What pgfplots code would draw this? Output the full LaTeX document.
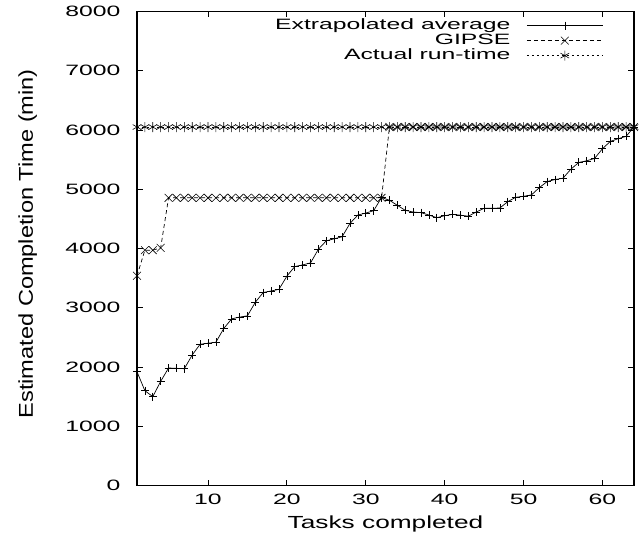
\documentclass[border=0pt]{standalone}
\usepackage{pgfplots}
\pgfplotsset{compat=1.18}
\usepackage{fontspec}
\setmainfont{Liberation Sans}
\usepackage{graphicx}
\pgfplotstableread{
x y
1 1920
2 1600
3 1500
4 1757
5 1983
6 1978
7 1971
8 2203
9 2384
10 2401
11 2418
12 2650
13 2813
14 2842
15 2864
16 3093
17 3257
18 3283
19 3311
20 3534
21 3695
22 3723
23 3757
24 3989
25 4130
26 4164
27 4198
28 4424
29 4565
30 4598
31 4638
32 4860
33 4814
34 4729
35 4644
36 4616
37 4605
38 4565
39 4520
40 4554
41 4576
42 4562
43 4545
44 4616
45 4678
46 4678
47 4684
48 4791
49 4864
50 4881
51 4904
52 5028
53 5130
54 5164
55 5186
56 5339
57 5452
58 5480
59 5520
60 5683
61 5808
62 5853
63 5893
64 6050
}\extrap
\pgfplotstableread{
x y
1 3540
2 3972
3 3972
4 4011
5 4855
6 4855
7 4855
8 4855
9 4855
10 4855
11 4855
12 4855
13 4855
14 4855
15 4855
16 4855
17 4855
18 4855
19 4855
20 4855
21 4855
22 4855
23 4855
24 4855
25 4855
26 4855
27 4855
28 4855
29 4855
30 4855
31 4855
32 4855
33 6050
34 6050
35 6050
36 6050
37 6050
38 6050
39 6050
40 6050
41 6050
42 6050
43 6050
44 6050
45 6050
46 6050
47 6050
48 6050
49 6050
50 6050
51 6050
52 6050
53 6050
54 6050
55 6050
56 6050
57 6050
58 6050
59 6050
60 6050
61 6050
62 6050
63 6050
64 6050
}\gipse
\pgfplotstableread{
x y
1 6050
2 6050
3 6050
4 6050
5 6050
6 6050
7 6050
8 6050
9 6050
10 6050
11 6050
12 6050
13 6050
14 6050
15 6050
16 6050
17 6050
18 6050
19 6050
20 6050
21 6050
22 6050
23 6050
24 6050
25 6050
26 6050
27 6050
28 6050
29 6050
30 6050
31 6050
32 6050
33 6050
34 6050
35 6050
36 6050
37 6050
38 6050
39 6050
40 6050
41 6050
42 6050
43 6050
44 6050
45 6050
46 6050
47 6050
48 6050
49 6050
50 6050
51 6050
52 6050
53 6050
54 6050
55 6050
56 6050
57 6050
58 6050
59 6050
60 6050
61 6050
62 6050
63 6050
64 6050
}\actual
\begin{document}
\begin{tikzpicture}
\begin{axis}[
  scale only axis,
  width=497pt, height=474pt,
  xmin=1, xmax=64, ymin=0, ymax=8000,
  xtick={10,20,30,40,50,60},
  ytick={0,1000,2000,3000,4000,5000,6000,7000,8000},
  tick align=inside,
  major tick length=6pt,
  axis line style={line width=1.2pt},
  tick style={line width=0.8pt, black},
  /pgf/number format/1000 sep={},
  /pgf/number format/assume math mode=true,
  xticklabel={\scalebox{1.65}[1]{\pgfmathprintnumber{\tick}}},
  yticklabel={\scalebox{1.65}[1]{\pgfmathprintnumber{\tick}}},
  ticklabel style={font=\fontsize{15}{15}\selectfont},
  yticklabel style={xshift=-13pt},
  xticklabel style={yshift=-5pt},
  xlabel={\scalebox{1.5}[1]{Tasks completed}},
  xlabel style={font=\fontsize{17.5}{17.5}\selectfont, at={(rel axis cs:0.5,-0.0899)}, anchor=base},
  ylabel={\scalebox{1.18}[1]{Estimated Completion Time (min)}},
  ylabel style={font=\fontsize{20}{20}\selectfont, at={(rel axis cs:-0.2093,0.51)}, anchor=base},
  legend plot pos=right,
  legend cell align=right,
  legend style={draw=none, fill=none, inner sep=0pt, outer sep=0pt,
    at={(rel axis cs:0.938,0.986)}, anchor=north east,
    font=\fontsize{15}{15}\selectfont,
    nodes={text height=10pt, text depth=3pt, inner sep=1pt},
    row sep=0pt},
  legend image code/.code={\draw[mark repeat=2,mark phase=2,#1] plot coordinates {(0pt,0pt) (38pt,0pt) (76pt,0pt)};},
]
\addplot[black, line width=0.7pt, mark=+, mark size=4pt, mark options={solid, line width=0.6pt}] table {\extrap};
\addlegendentry{\scalebox{1.65}[1]{Extrapolated average}\rule{15pt}{0pt}}
\addplot[black, line width=0.7pt, dash pattern=on 4pt off 3pt, mark=x, mark size=5.5pt, mark options={solid, line width=0.6pt}] table {\gipse};
\addlegendentry{\scalebox{1.65}[1]{GIPSE}\rule{15pt}{0pt}}
\addplot[black, line width=0.7pt, dash pattern=on 2pt off 3pt, mark=asterisk, mark size=5pt, mark options={solid, line width=0.6pt}] table {\actual};
\addlegendentry{\scalebox{1.65}[1]{Actual run-time}\rule{15pt}{0pt}}
\end{axis}
\path ([shift={(-137pt,-49.5pt)}]current axis.south west) rectangle ([shift={(5pt,11.5pt)}]current axis.north east);
\end{tikzpicture}
\end{document}
